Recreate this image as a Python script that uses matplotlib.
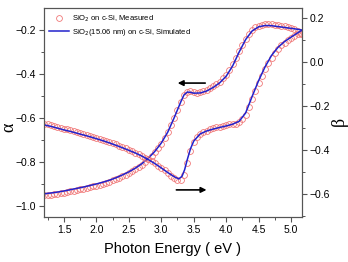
import matplotlib
matplotlib.use("Agg")
import matplotlib.pyplot as plt
import numpy as np

plt.rcParams['font.family'] = ['Liberation Sans', 'DejaVu Sans']

# measured, 0.05 eV step
e_meas = [1.20, 1.25, 1.30, 1.35, 1.40, 1.45, 1.50, 1.55, 1.60, 1.65,
          1.70, 1.75, 1.80, 1.85, 1.90, 1.95, 2.00, 2.05, 2.10, 2.15,
          2.20, 2.25, 2.30, 2.35, 2.40, 2.45, 2.50, 2.55, 2.60, 2.65,
          2.70, 2.75, 2.80, 2.85, 2.90, 2.95, 3.00, 3.05, 3.10, 3.15,
          3.20, 3.25, 3.30, 3.35, 3.40, 3.45, 3.50, 3.55, 3.60, 3.65,
          3.70, 3.75, 3.80, 3.85, 3.90, 3.95, 4.00, 4.05, 4.10, 4.15,
          4.20, 4.25, 4.30, 4.35, 4.40, 4.45, 4.50, 4.55, 4.60, 4.65,
          4.70, 4.75, 4.80, 4.85, 4.90, 4.95, 5.00, 5.05, 5.10, 5.15]
alpha_meas = [-0.952, -0.950, -0.948, -0.946, -0.944, -0.942, -0.939, -0.937, -0.934, -0.931,
              -0.928, -0.925, -0.922, -0.918, -0.915, -0.911, -0.907, -0.903, -0.899, -0.895,
              -0.890, -0.884, -0.878, -0.872, -0.865, -0.858, -0.850, -0.842, -0.833, -0.823,
              -0.812, -0.800, -0.786, -0.771, -0.755, -0.737, -0.716, -0.692, -0.664, -0.632,
              -0.598, -0.562, -0.527, -0.497, -0.480, -0.478, -0.482, -0.484, -0.483, -0.479,
              -0.473, -0.465, -0.456, -0.446, -0.434, -0.420, -0.403, -0.381, -0.355, -0.327,
              -0.297, -0.267, -0.240, -0.218, -0.200, -0.188, -0.180, -0.175, -0.173, -0.173,
              -0.174, -0.176, -0.178, -0.180, -0.182, -0.185, -0.189, -0.195, -0.205, -0.220]
beta_meas = [-0.280, -0.283, -0.287, -0.291, -0.295, -0.299, -0.303, -0.307, -0.311, -0.315,
             -0.319, -0.323, -0.327, -0.331, -0.336, -0.340, -0.345, -0.349, -0.354, -0.359,
             -0.364, -0.370, -0.375, -0.381, -0.387, -0.393, -0.399, -0.405, -0.412, -0.419,
             -0.427, -0.435, -0.443, -0.452, -0.461, -0.471, -0.482, -0.493, -0.505, -0.517,
             -0.528, -0.537, -0.538, -0.512, -0.460, -0.405, -0.366, -0.342, -0.328, -0.319,
             -0.312, -0.307, -0.302, -0.298, -0.294, -0.290, -0.286, -0.282, -0.280, -0.280,
             -0.272, -0.258, -0.240, -0.205, -0.167, -0.130, -0.095, -0.062, -0.032, -0.005,
             0.020, 0.042, 0.060, 0.075, 0.088, 0.100, 0.110, 0.120, 0.128, 0.134]

# simulated
e_sim_a = [1.19, 1.3, 1.4, 1.5, 1.6, 1.7, 1.8, 1.9, 2.0, 2.1, 2.2, 2.3, 2.4, 2.5,
           2.6, 2.7, 2.8, 2.9, 3.0, 3.1, 3.2, 3.3, 3.35, 3.4, 3.45, 3.5, 3.6, 3.7,
           3.8, 3.9, 4.0, 4.1, 4.2, 4.3, 4.4, 4.5, 4.6, 4.7, 4.8, 4.9, 5.0, 5.1, 5.17]
alpha_sim = [-0.945, -0.941, -0.937, -0.932, -0.926, -0.920, -0.914, -0.907, -0.900, -0.892,
             -0.883, -0.872, -0.859, -0.845, -0.828, -0.808, -0.783, -0.752, -0.714, -0.664,
             -0.598, -0.527, -0.495, -0.482, -0.483, -0.487, -0.486, -0.477, -0.461, -0.440,
             -0.410, -0.363, -0.300, -0.243, -0.204, -0.185, -0.179, -0.180, -0.184, -0.188,
             -0.192, -0.196, -0.200]
e_sim_b = [1.19, 1.3, 1.4, 1.5, 1.6, 1.7, 1.8, 1.9, 2.0, 2.1, 2.2, 2.3, 2.4, 2.5,
           2.6, 2.7, 2.8, 2.9, 3.0, 3.1, 3.2, 3.27, 3.32, 3.36, 3.4, 3.45, 3.5, 3.6,
           3.7, 3.8, 3.9, 4.0, 4.1, 4.2, 4.3, 4.4, 4.5, 4.6, 4.7, 4.8, 4.9, 5.0, 5.1, 5.17]
beta_sim = [-0.286, -0.293, -0.301, -0.309, -0.316, -0.324, -0.332, -0.340, -0.349, -0.358,
            -0.368, -0.379, -0.390, -0.402, -0.414, -0.428, -0.444, -0.462, -0.482, -0.503,
            -0.522, -0.532, -0.520, -0.490, -0.445, -0.395, -0.360, -0.327, -0.314, -0.305,
            -0.298, -0.291, -0.283, -0.270, -0.232, -0.157, -0.085, -0.022, 0.030, 0.067,
            0.093, 0.113, 0.132, 0.145]

red = '#f07878'
blue = '#2222cc'

fig = plt.figure(figsize=(3.48, 2.62), dpi=100)
ax = fig.add_axes([0.126, 0.172, 0.742, 0.797])
ax2 = ax.twinx()

ax.plot(e_meas, alpha_meas, 'o', ms=4.2, mfc='none', mec=red, mew=0.6,
        label='SiO$_2$ on c-Si, Measured')
ax.plot(e_sim_a, alpha_sim, '-', color=blue, lw=1.1,
        label='SiO$_2$(15.06 nm) on c-Si, Simulated')
ax2.plot(e_meas, beta_meas, 'o', ms=4.2, mfc='none', mec=red, mew=0.6)
ax2.plot(e_sim_b, beta_sim, '-', color=blue, lw=1.1)

ax.set_xlim(1.19, 5.17)
ax.set_ylim(-1.05, -0.1)
ax2.set_ylim(-0.705, 0.245)

ax.set_xticks([1.5, 2.0, 2.5, 3.0, 3.5, 4.0, 4.5, 5.0])
ax.set_xticks(np.arange(1.25, 5.2, 0.25), minor=True)
ax.set_yticks([-1.0, -0.8, -0.6, -0.4, -0.2])
ax.set_yticks(np.arange(-1.0, -0.1, 0.1), minor=True)
ax2.set_yticks([-0.6, -0.4, -0.2, 0.0, 0.2])
ax2.set_yticks(np.arange(-0.7, 0.25, 0.1), minor=True)

spc = '#555555'
for a in (ax, ax2):
    for s in a.spines.values():
        s.set_color(spc)
        s.set_linewidth(0.8)
    a.tick_params(which='major', length=3.5, width=0.8, color=spc, labelsize=7.5, pad=2)
    a.tick_params(which='minor', length=2, width=0.7, color=spc)
ax.tick_params(axis='both', which='both', direction='out')
ax2.tick_params(axis='y', which='both', direction='out')

ax.set_xlabel('Photon Energy ( eV )', fontsize=10.5, labelpad=5)
ax.set_ylabel('α', fontsize=13, family='Liberation Serif')
ax.yaxis.set_label_coords(-0.104, 0.43)
ax2.set_ylabel('β', fontsize=13, family='Liberation Serif')
ax2.yaxis.set_label_coords(1.11, 0.455)

ax.annotate('', xy=(3.21, -0.441), xytext=(3.72, -0.441),
            arrowprops=dict(arrowstyle='-|>', color='black', lw=1.2, mutation_scale=8))
ax.annotate('', xy=(3.74, -0.927), xytext=(3.19, -0.927),
            arrowprops=dict(arrowstyle='-|>', color='black', lw=1.2, mutation_scale=8))

ax.legend(loc='upper left', frameon=False, fontsize=5.5, handlelength=2.6,
          borderaxespad=0.3, labelspacing=0.4, handletextpad=0.4,
          bbox_to_anchor=(0.0, 1.0))

fig.savefig('out.png', dpi=100)
